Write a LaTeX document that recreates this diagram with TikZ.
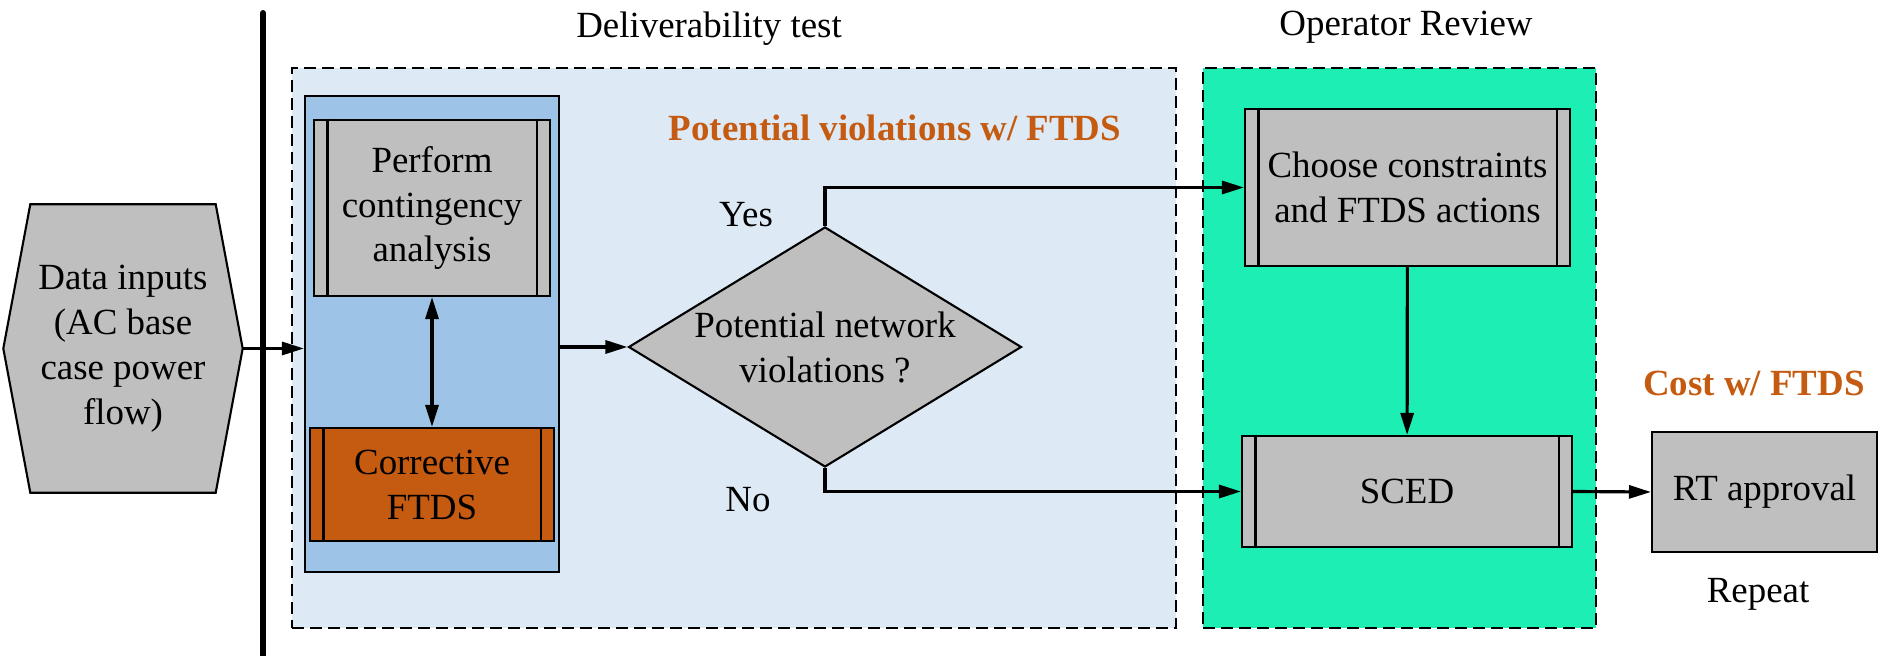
\documentclass[tikz,border=0pt]{standalone}
\usepackage{fontspec}
\setmainfont{Liberation Serif}
\usetikzlibrary{arrows.meta,shapes.geometric,backgrounds}
\definecolor{boxgray}{HTML}{BFBFBF}
\definecolor{lightblue}{HTML}{DDEAF6}
\definecolor{midblue}{HTML}{9DC3E6}
\definecolor{ftdsorange}{HTML}{C55A11}
\definecolor{revgreen}{HTML}{1DEFB4}

\begin{document}
\begin{tikzpicture}[x=1cm, y=-1cm, font=\fontsize{10.5}{12.8}\selectfont]
  \tikzset{stagebox/.style={draw, dash pattern=on 1.2mm off 0.6mm, line width=0.6pt},
           procbox/.style={draw, line width=0.6pt, fill=boxgray, align=center, inner sep=0pt},
           arr/.style={line width=0.9pt, -{Triangle[length=2.2mm,width=1.3mm]}},
           dblarr/.style={line width=0.9pt, {Triangle[length=2.2mm,width=1.3mm]}-{Triangle[length=2.2mm,width=1.3mm]}},
           note/.style={text=ftdsorange, font=\fontsize{10.5}{12.8}\selectfont\bfseries}}
  \useasboundingbox (0,0) rectangle (18.8,6.56);
  \node[stagebox, fill=lightblue, minimum width=8.84cm, minimum height=5.6cm] (deliv) at (7.34,3.48) {};
  \node[stagebox, fill=revgreen, minimum width=3.93cm, minimum height=5.6cm] (review) at (13.995,3.48) {};
  \node[draw, line width=0.6pt, fill=midblue, minimum width=2.54cm, minimum height=4.76cm] (blue) at (4.32,3.34) {};
  \node[procbox, minimum width=2.36cm, minimum height=1.76cm] (perf) at (4.32,2.08) {Perform\\contingency\\analysis};
  \node[procbox, fill=ftdsorange, minimum width=2.44cm, minimum height=1.13cm] (corr) at (4.32,4.845) {Corrective\\FTDS};
  \node[diamond, draw, line width=0.6pt, fill=boxgray, aspect=1.64, inner sep=0pt, align=center,
        minimum width=3.93cm, minimum height=2.4cm] (dec) at (8.25,3.47) {Potential network\\violations ?};
  \node[procbox, minimum width=3.25cm, minimum height=1.57cm] (choose) at (14.075,1.875) {Choose constraints\\and FTDS actions};
  \node[procbox, minimum width=3.3cm, minimum height=1.11cm] (sced) at (14.07,4.915) {SCED};
  \node[procbox, minimum width=2.25cm, minimum height=1.2cm] (rt) at (17.645,4.92) {RT approval};
  \node[align=center, inner sep=0pt, minimum width=2.38cm, minimum height=2.87cm] (data) at (1.23,3.485) {Data inputs\\(AC base\\case power\\flow)};
  \begin{scope}[on background layer]
    \filldraw[fill=boxgray, line width=0.6pt] (data.west) -- ([xshift=2.7mm]data.north west) -- ([xshift=-2.7mm]data.north east)
      -- (data.east) -- ([xshift=-2.7mm]data.south east) -- ([xshift=2.7mm]data.south west) -- cycle;
  \end{scope}
  \foreach \b in {perf,corr,choose,sced} {
    \draw[line width=0.6pt] ([xshift=1.45mm]\b.north west) -- ([xshift=1.45mm]\b.south west);
    \draw[line width=0.6pt] ([xshift=-1.45mm]\b.north east) -- ([xshift=-1.45mm]\b.south east);
  }
  \node (delivlbl) at (7.09,0.29) {Deliverability test};
  \node (revlbl) at (14.06,0.27) {Operator Review};
  \node[note] (potlbl) at (8.95,1.28) {Potential violations w/ FTDS};
  \node[note] (costlbl) at (17.54,3.83) {Cost w/ FTDS};
  \node (replbl) at (17.58,5.94) {Repeat};
  \node (yeslbl) at (7.46,2.15) {Yes};
  \node (nolbl) at (7.48,5.00) {No};
  \draw[arr] (data.east) -- (data.east -| blue.west);
  \coordinate (bartop) at (2.63,0.13);
  \coordinate (barbot) at (2.63,6.56);
  \draw[line width=1.7pt, line cap=round] (bartop) -- (barbot);
  \draw[dblarr] (perf) -- (corr);
  \draw[arr] (dec.west -| blue.east) -- (dec.west);
  \draw[arr] (dec.north) |- (choose.west);
  \draw[arr] (dec.south) |- (sced.west);
  \draw[arr] (choose) -- (sced);
  \draw[arr] (sced.east) -- (rt.west);
\end{tikzpicture}
\end{document}
